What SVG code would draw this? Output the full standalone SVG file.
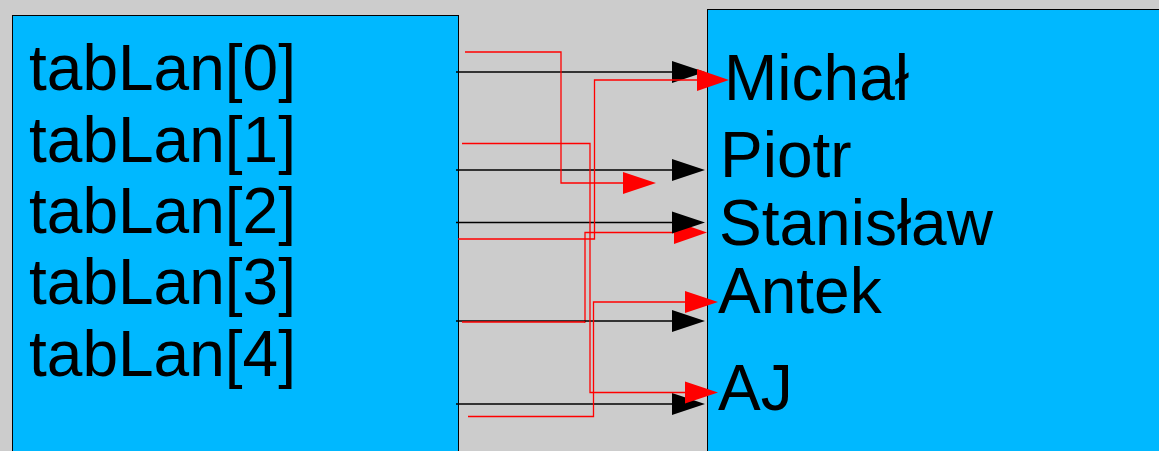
<svg xmlns="http://www.w3.org/2000/svg" width="1159" height="451" viewBox="0 0 1159 451">
<defs>
<style>
.box{fill:#00b8ff;stroke:#000;stroke-width:1}
.t{font-family:"Liberation Sans",Arial,sans-serif;font-size:64px;fill:#000}
.blk{fill:none;stroke:#000;stroke-width:1.3}
.red{fill:none;stroke:#f00;stroke-width:1.3}
.ahb{fill:#000}
.ahr{fill:#f00}
</style>
</defs>
<rect x="0" y="0" width="1159" height="451" fill="#cccccc"/>
<g id="left">
<rect class="box" x="12.5" y="15.5" width="446" height="440"/>
<text class="t" x="29" y="90">tabLan[0]</text>
<text class="t" x="29" y="162">tabLan[1]</text>
<text class="t" x="29" y="233">tabLan[2]</text>
<text class="t" x="29" y="304">tabLan[3]</text>
<text class="t" x="29" y="376">tabLan[4]</text>
</g>
<g id="right">
<rect class="box" x="707.5" y="9.5" width="460" height="450"/>
<text class="t" x="724" y="100">Michał</text>
<text class="t" x="720" y="177">Piotr</text>
<text class="t" x="719" y="245">Stanisław</text>
<text class="t" x="718" y="313">Antek</text>
<text class="t" x="718" y="410">AJ</text>
</g>
<g id="connectors">
<path class="red" d="M584,322 H585 V232.5 H690"/>
<polygon class="ahr" points="674,221 674,244 707,232.5"/>
<path class="blk" d="M456,72 H680"/>
<path class="blk" d="M456,170 H680"/>
<path class="blk" d="M456,222.5 H680"/>
<path class="blk" d="M456,321 H680"/>
<path class="blk" d="M456,404 H680"/>
<polygon class="ahb" points="672,61 672,83 705,72"/>
<polygon class="ahb" points="672,159 672,181 705,170"/>
<polygon class="ahb" points="672,211.5 672,233.5 705,222.5"/>
<polygon class="ahb" points="672,310 672,332 705,321"/>
<polygon class="ahb" points="672,393 672,415 705,404"/>
<path class="red" d="M465,52 H561 V183 H630"/>
<polygon class="ahr" points="623,172 623,194 656,183"/>
<path class="red" d="M462,143.5 H590 V392.5 H690"/>
<polygon class="ahr" points="685,381.5 685,403.5 718,392.5"/>
<path class="red" d="M458,239 H594.5 V80 H700"/>
<polygon class="ahr" points="697,69 697,91 729,80"/>
<path class="red" d="M462,322 H585"/>
<path class="red" d="M468,416.5 H593.5 V302 H690"/>
<polygon class="ahr" points="685,291 685,313 718,302"/>
</g>
</svg>
